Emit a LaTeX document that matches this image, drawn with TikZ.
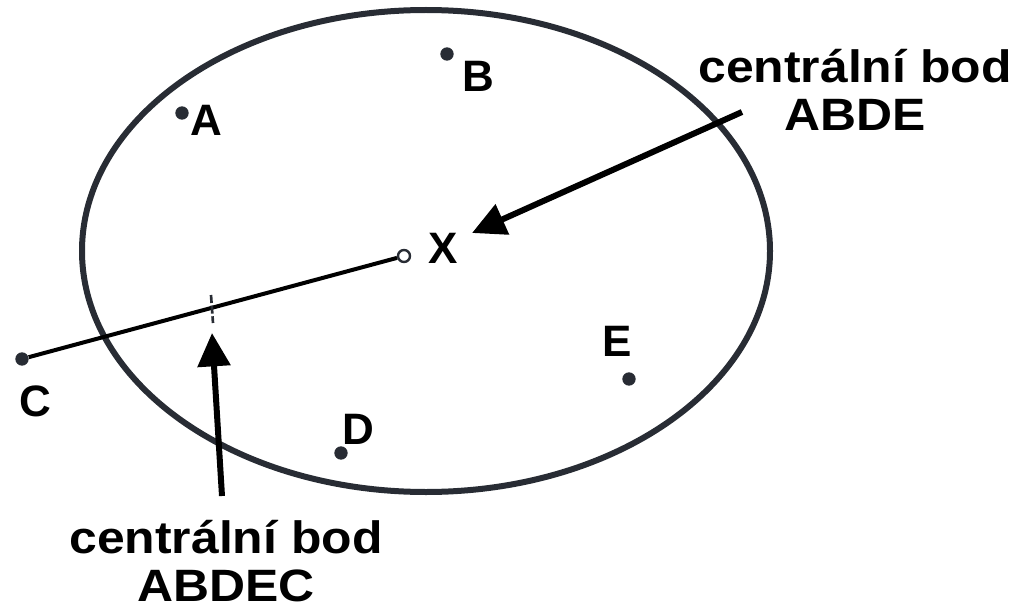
\documentclass[tikz,border=0pt]{standalone}
\usepackage{fontspec}
\setmainfont{Liberation Sans}
\usetikzlibrary{arrows.meta}
\definecolor{ink}{RGB}{40,44,52}
\tikzset{
  bod/.style={circle,fill=ink,inner sep=0pt,minimum size=10pt},
  popis/.style={inner sep=0pt,anchor=base,font=\fontsize{33}{36}\selectfont\bfseries},
  nadpis/.style={inner sep=0pt,anchor=base,align=center,
    font=\fontsize{34}{36}\selectfont\bfseries\addfontfeature{FakeStretch=1.1}},
  sipka/.style={line width=4.5pt,-{Triangle[length=25pt,width=24pt]}}
}
\begin{document}
\begin{tikzpicture}[x=0.75pt,y=0.75pt,yscale=-1,xscale=1]
	\path[use as bounding box] (0,0) rectangle (1018,610);

	%Ellipse
	\draw[ink,line width=4.5pt] (426,251) ellipse (344 and 241);

	%Points
	\node[bod] (a) at (182,113) {};
	\node[bod] (b) at (447,54) {};
	\node[bod] (c) at (22,359) {};
	\node[bod] (d) at (341,453) {};
	\node[bod] (e) at (629,379) {};
	\node[circle,draw=ink,fill=white,line width=1.8pt,inner sep=0pt,minimum size=9pt] (x) at (404,256) {};

	%Straight Lines
	\draw[line width=3pt] (c) -- (x);
	%Tick
	\coordinate (t) at (212,309);
	\draw[ink,line width=2pt,dash pattern={on 6pt off 2pt}] ([shift={(-1,-14)}]t) -- ([shift={(1,14)}]t);

	%Arrows
	\coordinate (s1) at (742,112);
	\coordinate (h1) at (472,233);
	\draw[sipka] (s1) -- (h1);
	\coordinate (s2) at (222,496);
	\coordinate (h2) at (212,333);
	\draw[sipka] (s2) -- (h2);

	% Text Node
	\node[popis] (la) at (206,136) {A};
	\node[popis] (lb) at (478,92) {B};
	\node[popis] (lc) at (35,416) {C};
	\node[popis] (ld) at (358,444) {D};
	\node[popis] (le) at (617,356) {E};
	\node[popis] (lx) at (443,263) {X};
	\node[nadpis] (abde) at (855,131) {centrální bod\\ABDE};
	\node[nadpis] (abdec) at (226,601) {centrální bod\\ABDEC};
\end{tikzpicture}
\end{document}
